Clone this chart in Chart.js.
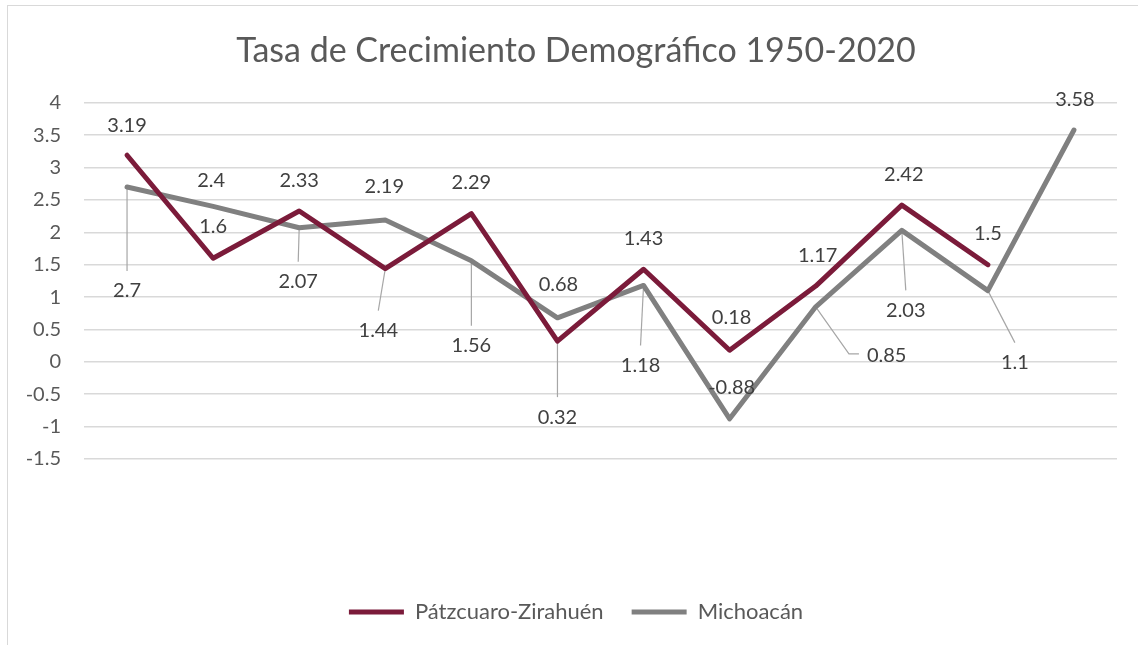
<!DOCTYPE html>
<html>
<head>
<meta charset="utf-8">
<script src="https://cdn.jsdelivr.net/npm/chart.js@4.4.1/dist/chart.umd.min.js"></script>
<style>
  html, body { margin: 0; padding: 0; background: #fff; overflow: hidden; width: 1138px; height: 645px; }
  #frame { position: absolute; left: 7px; top: 5px; width: 1140px; height: 650px; border-left: 1px solid #d9d9d9; border-top: 1px solid #d9d9d9; }
  #box { position: absolute; left: 0; top: 0; width: 1136px; height: 640px; }
</style>
</head>
<body>
<div id="frame"><div id="box"><canvas id="chart"></canvas></div></div>
<script>
const periods = ["1", "2", "3", "4", "5", "6", "7", "8", "9", "10", "11", "12"];
const patzcuaroValues = [3.19, 1.6, 2.33, 1.44, 2.29, 0.32, 1.43, 0.18, 1.17, 2.42, 1.5, null];
const michoacanValues = [2.7, 2.4, 2.07, 2.19, 1.56, 0.68, 1.18, -0.88, 0.85, 2.03, 1.1, 3.58];
const yTicks = [-1.5, -1, -0.5, 0, 0.5, 1, 1.5, 2, 2.5, 3, 3.5, 4];

// where each data label sits relative to its point (px), as placed in the original
const labelOffsets = [
  [[0, -30], [0, -32], [0, -30], [-7, 62], [0, -31], [0, 76], [0, -31], [2, -33], [2, -31], [2, -31], [0, -31], null],
  [[0, 104], [-2, -26], [-1, 54], [-1, -33], [0, 85], [1, -33], [-3, 80], [2, -31], [71, 49], [4, 80], [27, 72], [1, -30]],
];

const FONT = "Lato, 'Noto Sans', sans-serif";
const LABEL_FONT = "20px " + FONT;

const dataLabels = {
  id: "dataLabels",
  beforeDatasetsDraw(chart) {
    const ctx = chart.ctx;
    ctx.save();
    ctx.font = LABEL_FONT;
    ctx.strokeStyle = "#a6a6a6";
    ctx.lineWidth = 1.2;
    chart.data.datasets.forEach((ds, di) => {
      chart.getDatasetMeta(di).data.forEach((pt, i) => {
        const off = labelOffsets[di][i];
        if (ds.data[i] == null || !off || off[1] < 40) return;
        const lx = pt.x + off[0];
        const ly = pt.y + off[1];
        ctx.beginPath();
        ctx.moveTo(pt.x, pt.y);
        if (off[0] > 40) {
          // elbow leader ending at the label's left side
          const endX = lx - ctx.measureText(String(ds.data[i])).width / 2 - 8;
          ctx.lineTo(endX - 10, ly - 2);
          ctx.lineTo(endX, ly - 2);
        } else {
          ctx.lineTo(lx, ly - 20);
        }
        ctx.stroke();
      });
    });
    ctx.restore();
  },
  afterDatasetsDraw(chart) {
    const ctx = chart.ctx;
    ctx.save();
    ctx.font = LABEL_FONT;
    ctx.fillStyle = "#404040";
    ctx.textAlign = "center";
    ctx.textBaseline = "middle";
    chart.data.datasets.forEach((ds, di) => {
      chart.getDatasetMeta(di).data.forEach((pt, i) => {
        const off = labelOffsets[di][i];
        if (ds.data[i] == null || !off) return;
        ctx.fillText(String(ds.data[i]), pt.x + off[0], pt.y + off[1]);
      });
    });
    ctx.restore();
  },
};

new Chart(document.getElementById("chart"), {
  type: "line",
  data: {
    labels: periods,
    datasets: [
      {
        label: "Pátzcuaro-Zirahuén",
        data: patzcuaroValues,
        borderColor: "#7b1b3a",
        backgroundColor: "#7b1b3a",
        borderWidth: 5,
        borderCapStyle: "round",
        borderJoinStyle: "round",
        pointRadius: 0,
        tension: 0,
      },
      {
        label: "Michoacán",
        data: michoacanValues,
        borderColor: "#808080",
        backgroundColor: "#808080",
        borderWidth: 5,
        borderCapStyle: "round",
        borderJoinStyle: "round",
        pointRadius: 0,
        tension: 0,
      },
    ],
  },
  options: {
    responsive: true,
    maintainAspectRatio: false,
    animation: false,
    layout: { padding: { left: 0, right: 0, top: 0, bottom: 13 } },
    plugins: {
      title: {
        display: true,
        text: "Tasa de Crecimiento Demográfico 1950-2020",
        color: "#595959",
        font: { family: FONT, size: 34, weight: "normal" },
        padding: { top: 25, bottom: 31 },
      },
      legend: {
        position: "bottom",
        labels: {
          usePointStyle: true,
          pointStyle: "line",
          pointStyleWidth: 55,
          color: "#595959",
          font: { family: FONT, size: 22 },
          padding: 28,
        },
      },
      tooltip: { enabled: false },
    },
    scales: {
      x: {
        offset: true,
        ticks: { display: false },
        grid: { display: false },
        border: { display: false },
        afterFit: (scale) => { scale.height = 114; },
      },
      y: {
        min: -1.5,
        max: 4,
        afterBuildTicks: (scale) => { scale.ticks = yTicks.map((v) => ({ value: v })); },
        ticks: {
          color: "#595959",
          font: { family: FONT, size: 20 },
          padding: 23,
          callback: (value) => String(value),
        },
        grid: { color: "#d9d9d9", lineWidth: 1.5, drawTicks: false },
        border: { display: false },
        afterFit: (scale) => { scale.width = 76; },
      },
      // empty right margin so the title and legend stay centred on the whole chart
      yRight: {
        position: "right",
        ticks: { display: false },
        grid: { display: false, drawTicks: false },
        border: { display: false },
        afterFit: (scale) => { scale.width = 27; },
      },
    },
  },
  plugins: [dataLabels],
});
</script>
</body>
</html>
